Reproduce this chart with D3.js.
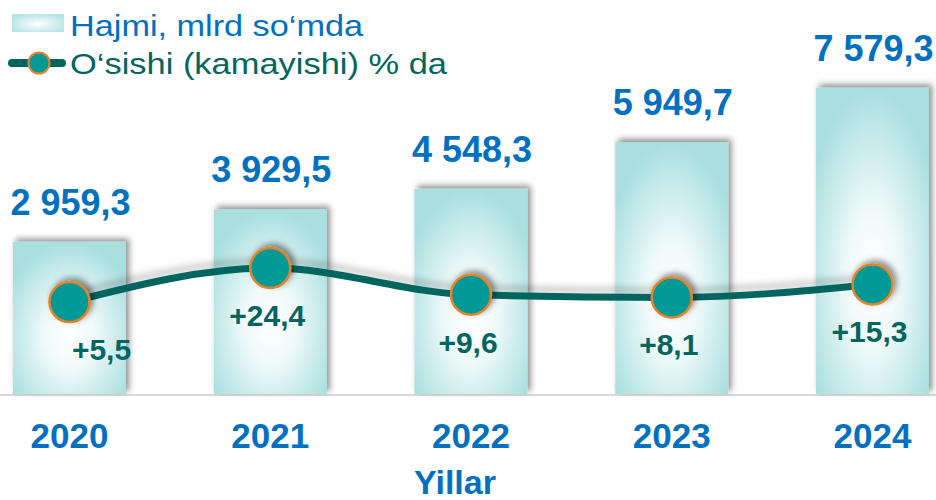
<!DOCTYPE html>
<html>
<head>
<meta charset="utf-8">
<script src="https://cdn.jsdelivr.net/npm/d3@7"></script>
<style>
  body { margin: 0; background: #fff; }
  svg { display: block; font-family: "Liberation Sans", Arial, sans-serif; }
</style>
</head>
<body>
<div id="viz"></div>
<script>
// Values.
const YEARS = ["2020", "2021", "2022", "2023", "2024"];
const VOLUME = [2959.3, 3929.5, 4548.3, 5949.7, 7579.3];      // mlrd so'm
const GROWTH = [5.5, 24.4, 9.6, 8.1, 15.3];                   // % change
const VOLUME_LABELS = ["2 959,3", "3 929,5", "4 548,3", "5 949,7", "7 579,3"];
const GROWTH_LABELS = ["+5,5", "+24,4", "+9,6", "+8,1", "+15,3"];

const W = 936, H = 500;
const BASE = 394;
const BAR_W = 113;
const BLUE = "#0070c0";
const TEAL_DARK = "#03655f";

const svg = d3.select("#viz").append("svg")
  .attr("width", W)
  .attr("height", H);

const defs = svg.append("defs");

const grad = defs.append("radialGradient")
  .attr("id", "barFill")
  .attr("cx", "50%").attr("cy", "62%").attr("r", "62%");
grad.append("stop").attr("offset", "0%").attr("stop-color", "#ffffff");
grad.append("stop").attr("offset", "35%").attr("stop-color", "#f1fafa");
grad.append("stop").attr("offset", "100%").attr("stop-color", "#a9dfdf");

const legGrad = defs.append("radialGradient")
  .attr("id", "legFill")
  .attr("cx", "50%").attr("cy", "55%").attr("r", "60%");
legGrad.append("stop").attr("offset", "0%").attr("stop-color", "#ffffff");
legGrad.append("stop").attr("offset", "100%").attr("stop-color", "#b3e3e3");

const shadow = defs.append("filter").attr("id", "shadow")
  .attr("x", "-30%").attr("y", "-30%").attr("width", "160%").attr("height", "160%");
shadow.append("feDropShadow")
  .attr("dx", 3).attr("dy", -3).attr("stdDeviation", 3)
  .attr("flood-color", "#000").attr("flood-opacity", 0.45);

const lineShadow = defs.append("filter").attr("id", "lineShadow")
  .attr("x", "-10%").attr("y", "-100%").attr("width", "120%").attr("height", "300%");
lineShadow.append("feDropShadow")
  .attr("dx", 0).attr("dy", -7).attr("stdDeviation", 3)
  .attr("flood-color", "#000").attr("flood-opacity", 0.18);

// Scales
const x = d3.scalePoint().domain(YEARS).range([69.5, 872.5]);
const yBar = d3.scaleLinear().domain([-1600, 7600]).range([BASE, 87]);
const yLine = d3.scaleLinear().domain([0, 30]).range([312, 258]);

// Baseline
svg.append("line")
  .attr("x1", 0).attr("x2", W)
  .attr("y1", BASE + 1).attr("y2", BASE + 1)
  .attr("stroke", "#d9d9d9")
  .attr("stroke-width", 2);

// Bars
svg.append("g")
  .selectAll("rect")
  .data(VOLUME)
  .join("rect")
  .attr("x", (d, i) => x(YEARS[i]) - BAR_W / 2)
  .attr("y", d => yBar(d))
  .attr("width", BAR_W)
  .attr("height", d => BASE - yBar(d))
  .attr("fill", "url(#barFill)")
  .attr("filter", "url(#shadow)");

// Volume labels above bars
svg.append("g")
  .selectAll("text")
  .data(VOLUME)
  .join("text")
  .attr("x", (d, i) => x(YEARS[i]) + 1)
  .attr("y", d => yBar(d) - 27)
  .attr("text-anchor", "middle")
  .attr("fill", BLUE)
  .attr("font-size", 36)
  .attr("font-weight", "bold")
  .text((d, i) => VOLUME_LABELS[i]);

// Growth line
const pts = GROWTH.map((d, i) => [x(YEARS[i]), yLine(d)]);
svg.append("path")
  .datum(pts)
  .attr("d", d3.line().curve(d3.curveMonotoneX))
  .attr("fill", "none")
  .attr("stroke", TEAL_DARK)
  .attr("stroke-width", 7)
  .attr("stroke-linecap", "round")
  .attr("filter", "url(#lineShadow)");

svg.append("g")
  .selectAll("circle")
  .data(pts)
  .join("circle")
  .attr("cx", d => d[0])
  .attr("cy", d => d[1])
  .attr("r", 20)
  .attr("fill", "#009a96")
  .attr("stroke", "#e8822a")
  .attr("stroke-width", 2.5)
  .attr("filter", "url(#shadow)");

// Growth labels below markers
svg.append("g")
  .selectAll("text")
  .data(GROWTH)
  .join("text")
  .attr("x", (d, i) => x(YEARS[i]) + (i === 0 ? 32 : -3))
  .attr("y", d => yLine(d) + 58)
  .attr("text-anchor", "middle")
  .attr("fill", TEAL_DARK)
  .attr("font-size", 30)
  .attr("font-weight", "bold")
  .text((d, i) => GROWTH_LABELS[i]);

// Category axis
svg.append("g")
  .selectAll("text")
  .data(YEARS)
  .join("text")
  .attr("x", d => x(d))
  .attr("y", 448)
  .attr("text-anchor", "middle")
  .attr("fill", BLUE)
  .attr("font-size", 35)
  .attr("font-weight", "bold")
  .text(d => d);

svg.append("text")
  .attr("x", 455)
  .attr("y", 494)
  .attr("text-anchor", "middle")
  .attr("fill", BLUE)
  .attr("font-size", 34)
  .attr("font-weight", "bold")
  .text("Yillar");

// Legend
const legend = svg.append("g");
legend.append("rect")
  .attr("x", 12).attr("y", 14)
  .attr("width", 52).attr("height", 18)
  .attr("fill", "url(#legFill)");
legend.append("text")
  .attr("x", 70).attr("y", 36)
  .attr("fill", BLUE)
  .attr("font-size", 30)
  .attr("textLength", 293)
  .attr("lengthAdjust", "spacingAndGlyphs")
  .text("Hajmi, mlrd so\u2018mda");

legend.append("line")
  .attr("x1", 12).attr("x2", 62)
  .attr("y1", 63).attr("y2", 63)
  .attr("stroke", TEAL_DARK)
  .attr("stroke-width", 8)
  .attr("stroke-linecap", "round");
legend.append("circle")
  .attr("cx", 39).attr("cy", 63).attr("r", 10.5)
  .attr("fill", "#009a96")
  .attr("stroke", "#e8822a")
  .attr("stroke-width", 2);
legend.append("text")
  .attr("x", 70).attr("y", 74)
  .attr("fill", TEAL_DARK)
  .attr("font-size", 30)
  .attr("textLength", 377)
  .attr("lengthAdjust", "spacingAndGlyphs")
  .text("O\u2018sishi (kamayishi) % da");
</script>
</body>
</html>
